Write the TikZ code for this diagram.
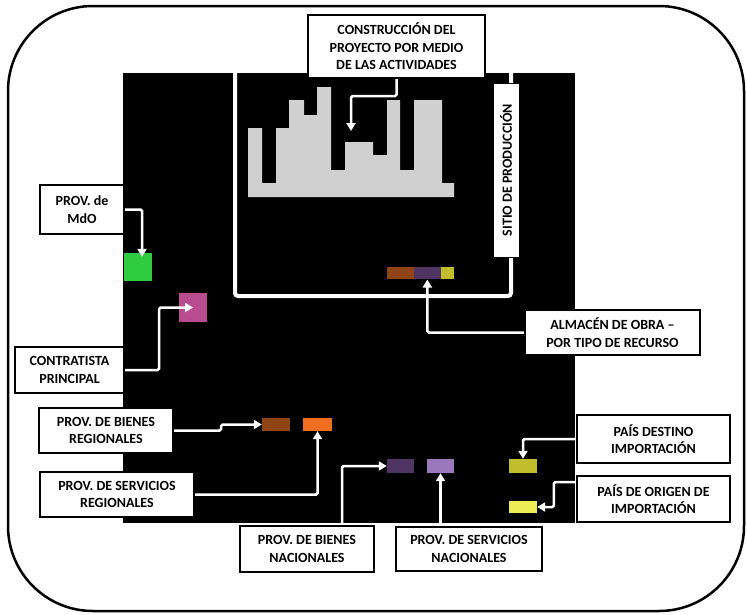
\documentclass[tikz,border=0pt]{standalone}
\usepackage{fontspec}
\setmainfont{Carlito}
\usetikzlibrary{arrows.meta}

\definecolor{mdogreen}{RGB}{46,204,64}
\definecolor{contmag}{RGB}{185,76,142}
\definecolor{regbrown}{RGB}{142,68,21}
\definecolor{regorange}{RGB}{238,111,31}
\definecolor{nacdark}{RGB}{80,52,98}
\definecolor{naclight}{RGB}{155,120,187}
\definecolor{impolive}{RGB}{194,189,42}
\definecolor{impyellow}{RGB}{238,236,85}
\definecolor{actgray}{RGB}{208,208,208}

\tikzset{
  lbl/.style={draw=black, line width=2.2pt, fill=white, align=center,
    inner sep=0pt, font=\fontsize{14}{17.5}\selectfont\bfseries},
  res/.style={draw=none, inner sep=0pt, minimum width=28pt},
  arr/.style={draw=white, line width=2.5pt, rounded corners=1.5pt,
    -{Triangle[length=8pt,width=9pt]}},
}

\begin{document}
\begin{tikzpicture}[x=1pt,y=-1pt]
\useasboundingbox (0,0) rectangle (747,614);
\fill[white] (0,0) rectangle (747,614);

% outer frame
\draw[line width=2.5pt, rounded corners=85pt] (8,6) rectangle (744,611);

% project area
\fill[black] (123,73) rectangle (575,523);

% production site frame
\draw[white, line width=4pt, rounded corners=3pt] (235,73) -- (235,296) -- (511,296) -- (511,73);

% activities (stepped chart)
\fill[actgray] (248,197) -- (248,128) -- (262,128) -- (262,183) -- (276,183) -- (276,128)
  -- (289,128) -- (289,100) -- (304,100) -- (304,115) -- (317,115) -- (317,87)
  -- (331,87) -- (331,170) -- (345,170) -- (345,142) -- (373,142) -- (373,155)
  -- (387,155) -- (387,100) -- (400,100) -- (400,170) -- (414,170) -- (414,100)
  -- (442,100) -- (442,183) -- (454,183) -- (454,197) -- cycle;
\coordinate (chartpt) at (351,131);

% site warehouse by resource type
\node[res, fill=regbrown, minimum width=27pt, minimum height=12.6pt] (whbrown) at (400.2,273) {};
\node[res, fill=nacdark, minimum width=27.3pt, minimum height=12.6pt] (whpurple) at (427.35,273) {};
\node[res, fill=impolive, minimum width=13pt, minimum height=12.6pt] (whyellow) at (447.5,273) {};

% resources
\node[res, fill=mdogreen, minimum height=28pt] (green) at (138,267) {};
\node[res, fill=contmag, minimum height=29pt] (magenta) at (193,307.5) {};
\node[res, fill=regbrown, minimum height=13pt] (brownreg) at (276,424.5) {};
\node[res, fill=regorange, minimum width=29pt, minimum height=13pt] (orangereg) at (317.5,424.5) {};
\node[res, fill=nacdark, minimum width=27pt, minimum height=14pt] (purpledark) at (400.5,466) {};
\node[res, fill=naclight, minimum width=27pt, minimum height=14pt] (purplelight) at (440.5,466) {};
\node[res, fill=impolive, minimum height=14pt] (olive) at (523,466) {};
\node[res, fill=impyellow, minimum height=12pt] (yellow) at (523,507) {};

% labels
\node[lbl, minimum width=177pt, minimum height=63pt] (top) at (396.5,46.5)
  {CONSTRUCCIÓN DEL\\PROYECTO POR MEDIO\\DE LAS ACTIVIDADES};
\node[lbl, line width=1pt, rotate=90, minimum width=174pt, minimum height=26pt] (sitio) at (506,170)
  {SITIO DE PRODUCCIÓN};
\node[lbl, minimum width=175pt, minimum height=45pt] (almacen) at (612.5,332.5)
  {ALMACÉN DE OBRA –\\POR TIPO DE RECURSO};
\node[lbl, minimum width=153pt, minimum height=48pt] (destino) at (653.5,439)
  {PAÍS DESTINO\\IMPORTACIÓN};
\node[lbl, minimum width=153pt, minimum height=46pt] (origen) at (653.5,499)
  {PAÍS DE ORIGEN DE\\IMPORTACIÓN};
\node[lbl, minimum width=146pt, minimum height=44pt] (servnac) at (469,549)
  {PROV. DE SERVICIOS\\NACIONALES};
\node[lbl, minimum width=134pt, minimum height=46pt] (bienesnac) at (307,549)
  {PROV. DE BIENES\\NACIONALES};
\node[lbl, minimum width=134pt, minimum height=45pt] (bienesreg) at (106,430.5)
  {PROV. DE BIENES\\REGIONALES};
\node[lbl, minimum width=154pt, minimum height=45pt] (servreg) at (117,494.5)
  {PROV. DE SERVICIOS\\REGIONALES};
\node[lbl, minimum width=109pt, minimum height=46pt] (contratista) at (69.5,370)
  {CONTRATISTA\\PRINCIPAL};
\node[lbl, minimum width=84pt, minimum height=49pt] (mdo) at (82,209.5)
  {PROV. de\\MdO};

% connectors
\draw[arr] (top.south) -- ++(0,17) -| (chartpt);
\draw[arr] (almacen.west) -| (whpurple.south);
\draw[arr] (destino.west) -| (olive.north);
\draw[arr] ([yshift=17pt]origen.west) -- ++(-22,0) |- (yellow.east);
\draw[arr] (purplelight.south |- servnac.north) -- (purplelight.south);
\draw[arr] ([xshift=35pt]bienesnac.north) |- (purpledark.west);
\draw[arr] (bienesreg.east) -- ++(47,0) |- (brownreg.west);
\draw[arr] (servreg.east) -| (orangereg.south);
\draw[arr] (contratista.east) -- ++(34,0) |- (magenta.center);
\draw[arr] (mdo.east) -| ([shift={(4pt,-4pt)}]green.north);
\end{tikzpicture}
\end{document}
